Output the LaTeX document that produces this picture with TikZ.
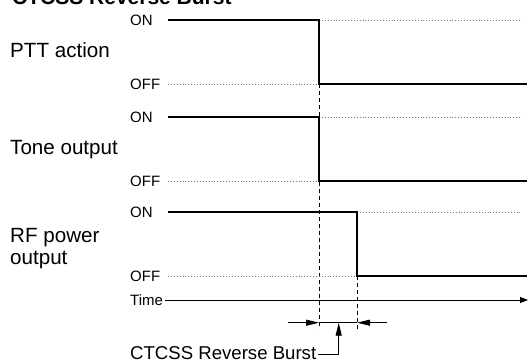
\documentclass[tikz,border=0pt]{standalone}
\usepackage{fontspec}
\setmainfont{Liberation Sans}
\usetikzlibrary{arrows.meta}
\tikzset{
  sig/.style={line width=1.7pt, line join=miter},
  lvl/.style={black!55, dotted, line width=0.9pt},
  guide/.style={dash pattern=on 4pt off 3pt, line width=0.8pt},
  axis/.style={line width=0.9pt, -{Triangle[length=8pt,width=6pt]}},
  dimarrow/.style={line width=0.9pt, -{Triangle[length=13pt,width=6pt]}},
  small/.style={font=\fontsize{15}{17}\selectfont, inner sep=0pt},
  big/.style={font=\fontsize{20.6}{24}\selectfont, inner sep=0pt},
  mid/.style={font=\fontsize{18.6}{22}\selectfont, inner sep=0pt},
  ttl/.style={font=\fontsize{21}{24}\selectfont\bfseries, inner sep=0pt}
}
\begin{document}
\begin{tikzpicture}[x=1pt,y=1pt]
\clip (0,0) rectangle (528,362);
\fill[white] (0,0) rectangle (528,362);
% title (cut off at top, as in the reference)
\node[ttl, anchor=base west] (title) at (12,357) {CTCSS Reverse Burst};
% left labels
\node[big, anchor=west] (ptt) at (10,311.5) {PTT action};
\node[big, anchor=base west] (tone) at (10,207) {Tone output};
\node[big, anchor=base west] (rf1) at (10,119.3) {RF power};
\node[big, anchor=base west] (rf2) at (10,97) {output};
% level labels
\node[small, anchor=west] (on1) at (130,342) {ON};
\node[small, anchor=west] (off1) at (130,278) {OFF};
\node[small, anchor=west] (on2) at (130,245) {ON};
\node[small, anchor=west] (off2) at (130,181) {OFF};
\node[small, anchor=west] (on3) at (130,150) {ON};
\node[small, anchor=west] (off3) at (130,86) {OFF};
\node[small, anchor=west] (time) at (130,62) {Time};
% guides
\draw[guide] (319,278) -- (319,33);
\draw[guide] (357,86) -- (357,33);
% dotted levels
\draw[lvl] (168,278) -- (319,278);
\draw[lvl] (319,342) -- (522,342);
\draw[lvl] (168,181) -- (319,181);
\draw[lvl] (319,245) -- (522,245);
\draw[lvl] (168,86) -- (357,86);
\draw[lvl] (357,150) -- (522,150);
% signals
\draw[sig] (168,342) -- (319,342) -- (319,278) -- (527,278);
\draw[sig] (168,245) -- (319,245) -- (319,181) -- (527,181);
\draw[sig] (168,150) -- (357,150) -- (357,86) -- (527,86);
% time axis
\coordinate (tend) at (528,62);
\draw[axis] (time.east) ++(2,0) -- (tend);
% dimension arrows
\coordinate (dl) at (288,39.3);
\coordinate (dla) at (319,39.3);
\coordinate (dr) at (387,39.3);
\coordinate (dra) at (357,39.3);
\draw[dimarrow] (dl) -- (dla);
\draw[dimarrow] (dr) -- (dra);
\draw[line width=0.9pt] (dla) -- (dra);
% label
\node[mid, anchor=base west] (burst) at (130,3) {CTCSS Reverse Burst};
\coordinate (up) at (338.7,39.3);
\draw[dimarrow] (burst.east |- 0,8) ++(2,0) -| (up);
\end{tikzpicture}
\end{document}
